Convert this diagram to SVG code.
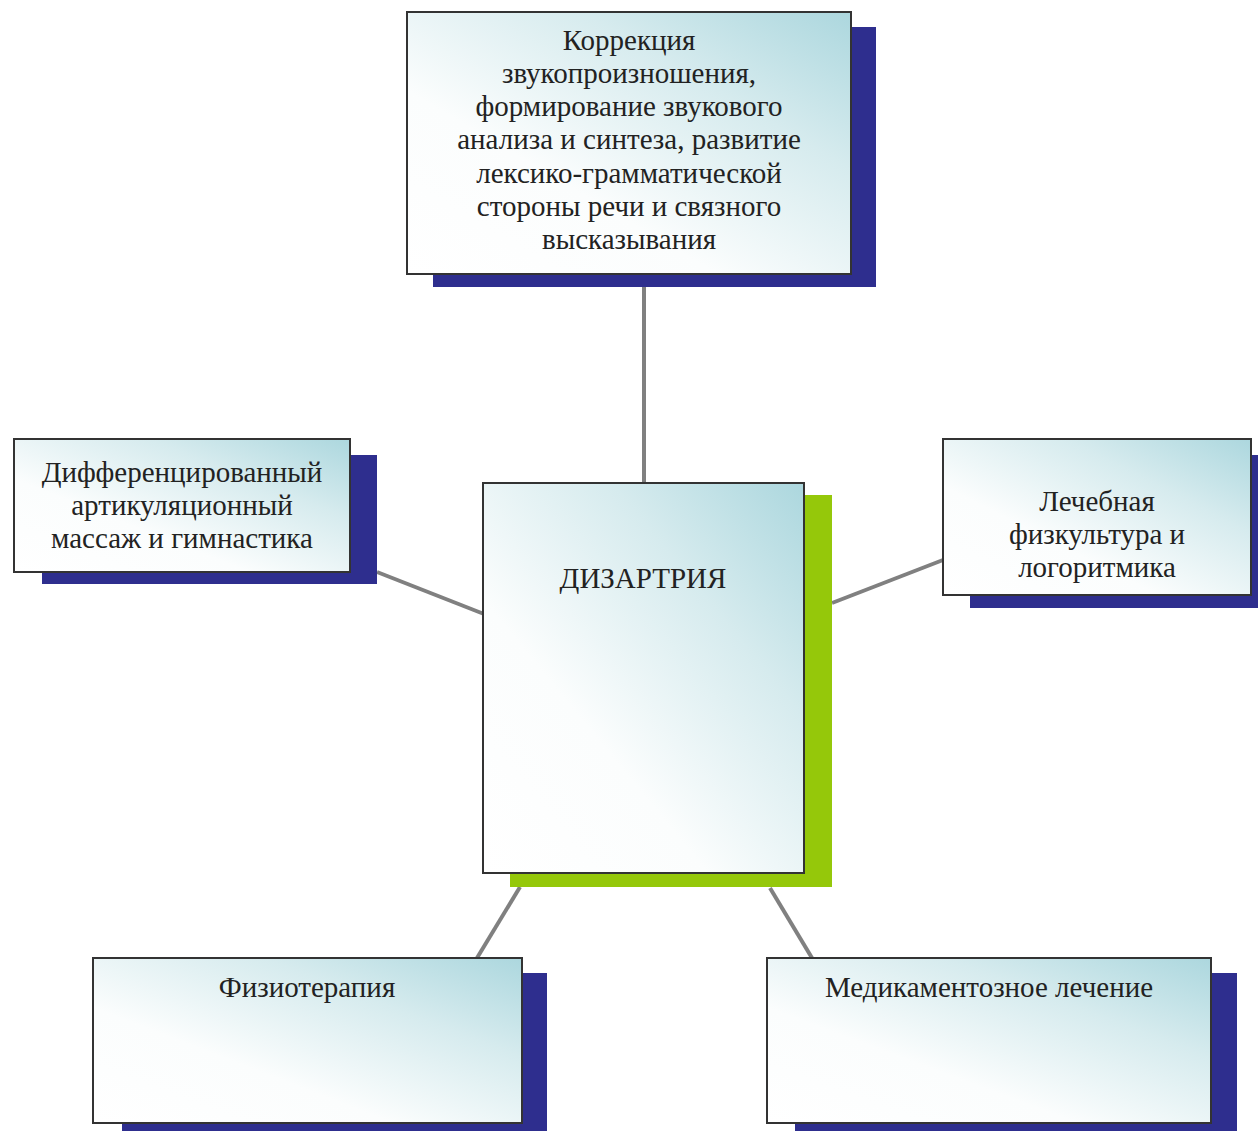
<svg xmlns="http://www.w3.org/2000/svg" width="1258" height="1131" viewBox="0 0 1258 1131">
<defs>
<linearGradient id="g" x1="0" y1="1" x2="1" y2="0">
<stop offset="0" stop-color="#ffffff"/>
<stop offset="0.35" stop-color="#fbfdfd"/>
<stop offset="0.7" stop-color="#d6ebee"/>
<stop offset="1" stop-color="#acd7de"/>
</linearGradient>
<style>
.box{fill:url(#g);stroke:#333333;stroke-width:2}
.sh{fill:#2e2e8e}
.shg{fill:#95c80a}
.t{font-family:"Liberation Serif","DejaVu Serif",serif;font-size:29px;fill:#222222;text-anchor:middle}
.c{stroke:#808080;stroke-width:4;fill:none}
</style>
</defs>
<rect width="1258" height="1131" fill="#ffffff"/>
<g id="connectors">
<line class="c" x1="644" y1="287" x2="644" y2="483"/>
<line class="c" x1="377" y1="572" x2="484" y2="614"/>
<line class="c" x1="832" y1="603" x2="943" y2="560"/>
<line class="c" x1="520" y1="887" x2="477" y2="958"/>
<line class="c" x1="770" y1="888" x2="812" y2="958"/>
</g>
<g id="top">
<rect class="sh" x="433" y="27" width="443" height="260"/>
<rect class="box" x="407" y="12" width="444" height="262"/>
<text class="t" x="629" y="50">Коррекция</text>
<text class="t" x="629" y="83">звукопроизношения,</text>
<text class="t" x="629" y="116">формирование звукового</text>
<text class="t" x="629" y="149">анализа и синтеза, развитие</text>
<text class="t" x="629" y="183">лексико-грамматической</text>
<text class="t" x="629" y="216">стороны речи и связного</text>
<text class="t" x="629" y="249">высказывания</text>
</g>
<g id="left">
<rect class="sh" x="42" y="455" width="335" height="129"/>
<rect class="box" x="14" y="439" width="336" height="133"/>
<text class="t" x="182" y="482">Дифференцированный</text>
<text class="t" x="182" y="515">артикуляционный</text>
<text class="t" x="182" y="548">массаж и гимнастика</text>
</g>
<g id="right">
<rect class="sh" x="970" y="455" width="300" height="153"/>
<rect class="box" x="943" y="439" width="308" height="156"/>
<text class="t" x="1097" y="511">Лечебная</text>
<text class="t" x="1097" y="544">физкультура и</text>
<text class="t" x="1097" y="577">логоритмика</text>
</g>
<g id="center">
<rect class="shg" x="510" y="495" width="322" height="392"/>
<rect class="box" x="483" y="483" width="321" height="390"/>
<text class="t" x="643" y="588">ДИЗАРТРИЯ</text>
</g>
<g id="bottom-left">
<rect class="sh" x="122" y="973" width="425" height="170"/>
<rect class="box" x="93" y="958" width="429" height="165"/>
<text class="t" x="307" y="997">Физиотерапия</text>
</g>
<g id="bottom-right">
<rect class="sh" x="795" y="973" width="442" height="170"/>
<rect class="box" x="767" y="958" width="444" height="165"/>
<text class="t" x="989" y="997">Медикаментозное лечение</text>
</g>
</svg>
